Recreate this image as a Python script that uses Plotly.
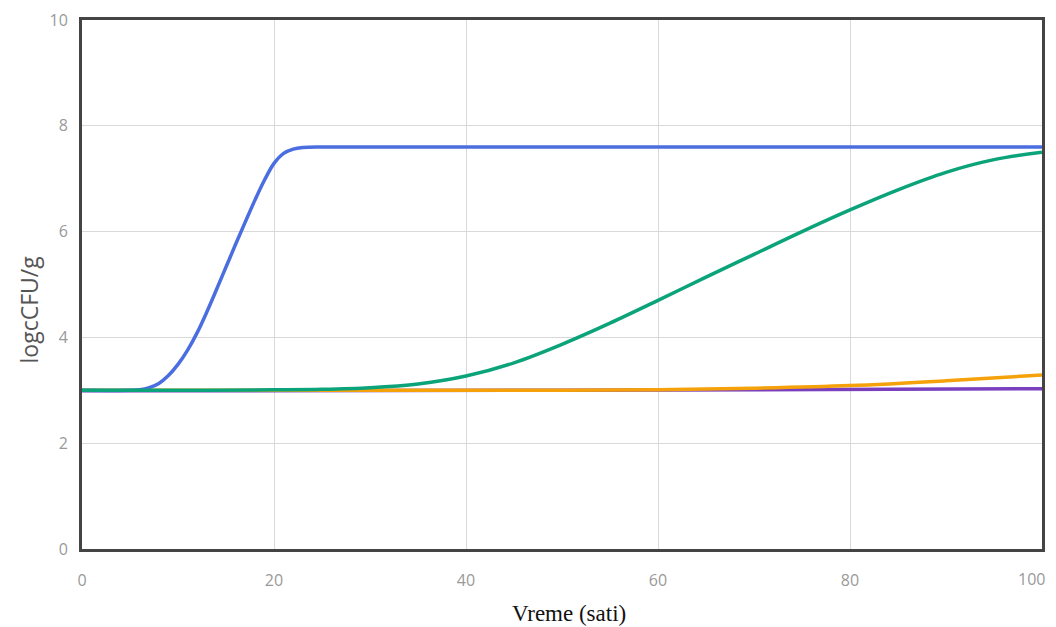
import plotly.graph_objects as go

# Data
blue_x = [0, 5, 6, 7, 8, 9, 10, 11, 12, 13, 14, 15, 16, 17, 18, 19, 20, 21, 22, 23, 25, 30, 100]
blue_y = [3.0, 3.0, 3.01, 3.05, 3.13, 3.28, 3.49, 3.76, 4.09, 4.48, 4.90, 5.33, 5.76, 6.18, 6.59, 6.97, 7.29, 7.48, 7.56, 7.59, 7.60, 7.60, 7.60]

green_x = [0, 10, 20, 25, 30, 35, 40, 45, 50, 55, 60, 65, 70, 75, 80, 85, 90, 95, 100]
green_y = [3.0, 3.0, 3.01, 3.02, 3.05, 3.12, 3.27, 3.52, 3.87, 4.27, 4.70, 5.14, 5.57, 6.00, 6.41, 6.79, 7.12, 7.36, 7.50]

orange_x = [0, 40, 50, 60, 70, 80, 90, 100]
orange_y = [3.0, 3.0, 3.0, 3.01, 3.04, 3.09, 3.18, 3.29]

purple_x = [0, 50, 100]
purple_y = [2.99, 3.0, 3.03]

x_ticks = [0, 20, 40, 60, 80]
x_last_tick = 100
y_ticks = [0, 2, 4, 6, 8, 10]

tick_font = dict(family="Open Sans", size=16, color="#999999")

fig = go.Figure()
for xs, ys, col in [
    (purple_x, purple_y, "#7a3fbf"),
    (orange_x, orange_y, "#f5a10a"),
    (blue_x, blue_y, "#4a6ee0"),
    (green_x, green_y, "#0ba37a"),
]:
    fig.add_trace(go.Scatter(x=xs, y=ys, mode="lines",
                             line=dict(color=col, width=3.5, shape="spline", smoothing=1.0),
                             showlegend=False, hoverinfo="skip"))

axis_common = dict(showline=True, linecolor="#444444", linewidth=3, mirror=True,
                   showgrid=True, gridcolor="#d9d9d9", gridwidth=1, zeroline=False,
                   automargin=False, ticks="", tickfont=tick_font)

fig.update_xaxes(range=[0, 100], tickvals=x_ticks, ticklabelstandoff=15, **axis_common)
fig.update_yaxes(range=[0, 10], tickvals=y_ticks, ticklabelstandoff=8, **axis_common)

# the page body adds an 8px offset, so the figure is sized to compensate
fig.update_layout(
    width=1048, height=619,
    margin=dict(l=74, r=14, t=12, b=78),
    paper_bgcolor="white", plot_bgcolor="white",
    annotations=[
        dict(text=str(x_last_tick), xref="x", yref="paper", x=x_last_tick, y=0, yshift=-30,
             xanchor="right", yanchor="middle", xshift=5, showarrow=False, font=tick_font),
        dict(text="Vreme (sati)", xref="paper", yref="paper", x=0.507, y=-0.121,
             xanchor="center", yanchor="middle", showarrow=False,
             font=dict(family="Liberation Serif", size=23, color="#111111")),
        dict(text="logcCFU/g", xref="paper", yref="paper", x=-0.05625, y=0.5,
             xanchor="center", yanchor="middle", yshift=-25, textangle=-90, showarrow=False,
             font=dict(family="Open Sans", size=23, color="#555555")),
    ],
)

fig.write_html("out.html")
